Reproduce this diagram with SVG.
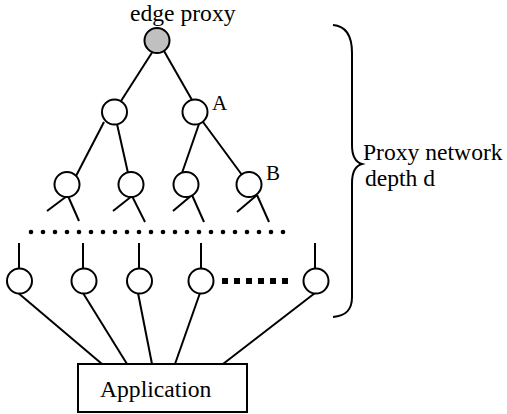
<svg xmlns="http://www.w3.org/2000/svg" width="507" height="414" viewBox="0 0 507 414">
  <defs>
    <style>
      .ln { stroke: #000; stroke-width: 2; fill: none; }
      .node { stroke: #000; stroke-width: 2; fill: #fff; }
      .root { stroke: #000; stroke-width: 2; fill: #c0c0c0; }
      .lbl { font-family: "Liberation Serif", "Times New Roman", serif; font-size: 23.6px; fill: #000; }
      .tag { font-family: "Liberation Serif", "Times New Roman", serif; font-size: 21px; fill: #000; }
      .dot { fill: #000; }
    </style>
  </defs>
  <rect width="507" height="414" fill="#fff"/>

  <!-- tree links -->
  <g id="connectors" class="ln">
    <!-- root to level 2 -->
    <line x1="153" y1="51" x2="121" y2="101"/>
    <line x1="164" y1="51" x2="192" y2="100"/>
    <!-- level 2 to level 3 -->
    <line x1="104" y1="122" x2="76" y2="176"/>
    <line x1="117" y1="124" x2="128" y2="173"/>
    <line x1="199" y1="124" x2="182" y2="173"/>
    <line x1="203" y1="122" x2="242" y2="175"/>
    <!-- level 3 stubs -->
    <line x1="67" y1="196" x2="47" y2="211"/>
    <line x1="68" y1="196" x2="79" y2="221"/>
    <line x1="132" y1="196" x2="113" y2="211"/>
    <line x1="132" y1="196" x2="145" y2="222"/>
    <line x1="192" y1="195" x2="173" y2="211"/>
    <line x1="192" y1="195" x2="204" y2="222"/>
    <line x1="257" y1="195" x2="237" y2="212"/>
    <line x1="257" y1="195" x2="269" y2="222"/>
    <!-- leaf stubs -->
    <line x1="19" y1="243" x2="19" y2="269"/>
    <line x1="83" y1="243" x2="83" y2="269"/>
    <line x1="139" y1="243" x2="139" y2="269"/>
    <line x1="201" y1="243" x2="201" y2="269"/>
    <line x1="315" y1="243" x2="315" y2="269"/>
    <!-- leaves to application -->
    <line x1="17" y1="292" x2="102" y2="364"/>
    <line x1="83" y1="293" x2="127" y2="364"/>
    <line x1="138" y1="293" x2="152" y2="364"/>
    <line x1="200" y1="293" x2="175" y2="364"/>
    <line x1="315" y1="293" x2="223" y2="364"/>
  </g>

  <!-- elided levels -->
  <g id="ellipsis-levels" class="dot">
    <circle cx="31" cy="232" r="2.3"/><circle cx="43" cy="232" r="2.3"/><circle cx="55" cy="232" r="2.3"/>
    <circle cx="67" cy="232" r="2.3"/><circle cx="79" cy="232" r="2.3"/><circle cx="91" cy="232" r="2.3"/>
    <circle cx="103" cy="232" r="2.3"/><circle cx="115" cy="232" r="2.3"/><circle cx="127" cy="232" r="2.3"/>
    <circle cx="139" cy="232" r="2.3"/><circle cx="151" cy="232" r="2.3"/><circle cx="163" cy="232" r="2.3"/>
    <circle cx="175" cy="232" r="2.3"/><circle cx="187" cy="232" r="2.3"/><circle cx="199" cy="232" r="2.3"/>
    <circle cx="211" cy="232" r="2.3"/><circle cx="223" cy="232" r="2.3"/><circle cx="235" cy="232" r="2.3"/>
    <circle cx="247" cy="232" r="2.3"/><circle cx="259" cy="232" r="2.3"/><circle cx="271" cy="232" r="2.3"/>
    <circle cx="283" cy="232" r="2.3"/>
  </g>
  <g id="ellipsis-leaves" class="dot">
    <rect x="222" y="278" width="6" height="6"/><rect x="234" y="278" width="6" height="6"/>
    <rect x="246" y="278" width="6" height="6"/><rect x="258" y="278" width="6" height="6"/>
    <rect x="270" y="278" width="6" height="6"/><rect x="282" y="278" width="6" height="6"/>
  </g>

  <!-- nodes -->
  <g id="edge-proxy">
    <circle class="root" cx="157" cy="40.5" r="12.5"/>
    <text class="lbl" x="130" y="21">edge proxy</text>
  </g>
  <g id="proxy-l2-left"><circle class="node" cx="114.5" cy="112" r="12.5"/></g>
  <g id="proxy-A">
    <circle class="node" cx="195" cy="112" r="12.5"/>
    <text class="tag" x="212" y="110">A</text>
  </g>
  <g id="proxy-l3-1"><circle class="node" cx="67" cy="184.5" r="12.5"/></g>
  <g id="proxy-l3-2"><circle class="node" cx="131" cy="184.5" r="12.5"/></g>
  <g id="proxy-l3-3"><circle class="node" cx="186" cy="184.5" r="12.5"/></g>
  <g id="proxy-B">
    <circle class="node" cx="249" cy="184.5" r="12.5"/>
    <text class="tag" x="266" y="180">B</text>
  </g>
  <g id="leaf-1"><circle class="node" cx="19.5" cy="281" r="12.5"/></g>
  <g id="leaf-2"><circle class="node" cx="84" cy="281" r="12.5"/></g>
  <g id="leaf-3"><circle class="node" cx="139.5" cy="281" r="12.5"/></g>
  <g id="leaf-4"><circle class="node" cx="201" cy="281" r="12.5"/></g>
  <g id="leaf-5"><circle class="node" cx="316" cy="281" r="12.5"/></g>

  <g id="application">
    <rect class="node" x="78" y="364" width="169" height="48"/>
    <text class="lbl" x="100" y="397">Application</text>
  </g>

  <!-- depth brace -->
  <g id="depth-brace">
    <path class="ln" d="M333,25 C346,26 352,36 352,53 L352,145 C352,155 355,162 362,164 C355,166 352,173 352,183 L352,297 C352,310 346,316 333,317"/>
    <text class="lbl" x="363" y="160">Proxy network</text>
    <text class="lbl" x="365" y="186">depth d</text>
  </g>
</svg>
